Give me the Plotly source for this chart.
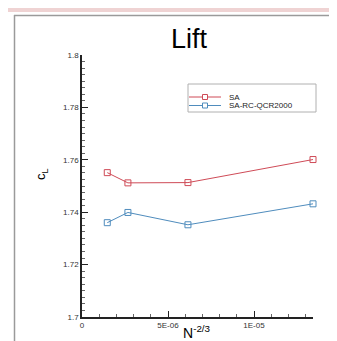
import plotly.graph_objects as go

# ---- data ----
n_vals = [1.47e-6, 2.67e-6, 6.16e-6, 1.343e-5]
cl_sa = [1.7551, 1.7512, 1.7513, 1.7601]
cl_qcr = [1.7360, 1.7399, 1.7352, 1.7432]
series_names = ["SA", "SA-RC-QCR2000"]
x_tickvals = [0, 5e-6, 1e-5]
x_ticktext = ["0", "5E-06", "1E-05"]
y_tickvals = [1.7, 1.72, 1.74, 1.76, 1.78, 1.8]
y_ticktext = ["1.7", "1.72", "1.74", "1.76", "1.78", "1.8"]

W, H = 337, 341
L, R, T, B = 74, 32, 47, 32
PW = W - L - R
PH = H - T - B


def px(x):
    return (x - L) / PW


def py(y):
    return (H - B - y) / PH


RED = "#cf4b57"
BLUE = "#4f8cbd"
FONT = "Liberation Sans, Arial, sans-serif"

fig = go.Figure()
for name, vals, col in [(series_names[0], cl_sa, RED), (series_names[1], cl_qcr, BLUE)]:
    fig.add_trace(go.Scatter(
        x=n_vals, y=vals, mode="lines+markers", name=name,
        line=dict(color=col, width=1),
        marker=dict(symbol="square-open", size=6, color=col, line=dict(width=1)),
        showlegend=False, cliponaxis=False,
    ))

shapes = []
annotations = []

# outer frame
shapes.append(dict(type="rect", xref="paper", yref="paper", x0=px(0), x1=px(W), y0=py(0), y1=py(4),
                   fillcolor="#efd3d3", line=dict(width=0), layer="below"))
shapes.append(dict(type="line", xref="paper", yref="paper", x0=px(6), x1=px(W), y0=py(7.5), y1=py(7.5),
                   line=dict(color="#9a9a9a", width=1.5)))
shapes.append(dict(type="line", xref="paper", yref="paper", x0=px(6.5), x1=px(6.5), y0=py(7), y1=py(H),
                   line=dict(color="#9a9a9a", width=1.5)))

# legend (manual, compact like the original)
shapes.append(dict(type="rect", xref="paper", yref="paper", x0=px(180), x1=px(308), y0=py(76), y1=py(104),
                   line=dict(color="#b0b0b0", width=1), fillcolor="white"))
for i, (name, col) in enumerate([(series_names[0], RED), (series_names[1], BLUE)]):
    yy = 89 + i * 8.5
    shapes.append(dict(type="line", xref="paper", yref="paper", x0=px(181), x1=px(213), y0=py(yy), y1=py(yy),
                       line=dict(color=col, width=1)))
    shapes.append(dict(type="rect", xref="paper", yref="paper", x0=px(194.5), x1=px(199.5), y0=py(yy - 2.5),
                       y1=py(yy + 2.5), line=dict(color=col, width=1), fillcolor="white"))
    annotations.append(dict(xref="paper", yref="paper", x=px(219), y=py(yy), text=name, showarrow=False,
                            xanchor="left", yanchor="middle", font=dict(size=8, color="#222", family=FONT)))

# title
annotations.append(dict(xref="paper", yref="paper", x=px(181), y=py(31), text="Lift", showarrow=False,
                        xanchor="center", yanchor="middle", font=dict(size=27, color="black", family=FONT)))
# axis titles
annotations.append(dict(xref="paper", yref="paper", x=px(33), y=py(166), text="c<sub>L</sub>", showarrow=False,
                        textangle=-90, xanchor="center", yanchor="middle", font=dict(size=13, color="black", family=FONT)))
annotations.append(dict(xref="paper", yref="paper", x=px(189), y=py(324), text="N<sup>-2/3</sup>", showarrow=False,
                        xanchor="center", yanchor="middle", font=dict(size=14, color="black", family=FONT)))

fig.update_layout(
    width=W, height=H,
    margin=dict(l=L, r=R, t=T, b=B),
    paper_bgcolor="white", plot_bgcolor="white",
    shapes=shapes, annotations=annotations,
    font=dict(family=FONT, size=8, color="#333"),
    showlegend=False,
)
fig.update_xaxes(
    range=[0, 1.343e-5], showgrid=False, zeroline=False,
    showline=True, linecolor="#222", linewidth=1.5,
    tickvals=x_tickvals, ticktext=x_ticktext,
    ticks="inside", ticklen=6, tickwidth=1.2, tickcolor="#222",
    minor=dict(dtick=1e-6, tick0=0, ticks="inside", ticklen=3, tickcolor="#666", tickwidth=0.8),
    tickfont=dict(size=8, color="#333"),
)
fig.update_yaxes(
    range=[1.7, 1.8], showgrid=False, zeroline=False,
    showline=True, linecolor="#222", linewidth=1.5,
    tickvals=y_tickvals, ticktext=y_ticktext,
    ticks="inside", ticklen=6, tickwidth=1.2, tickcolor="#222",
    minor=dict(dtick=0.0025, tick0=1.7, ticks="inside", ticklen=3, tickcolor="#666", tickwidth=0.8),
    tickfont=dict(size=8, color="#333"),
)

fig.write_html("out.html")
